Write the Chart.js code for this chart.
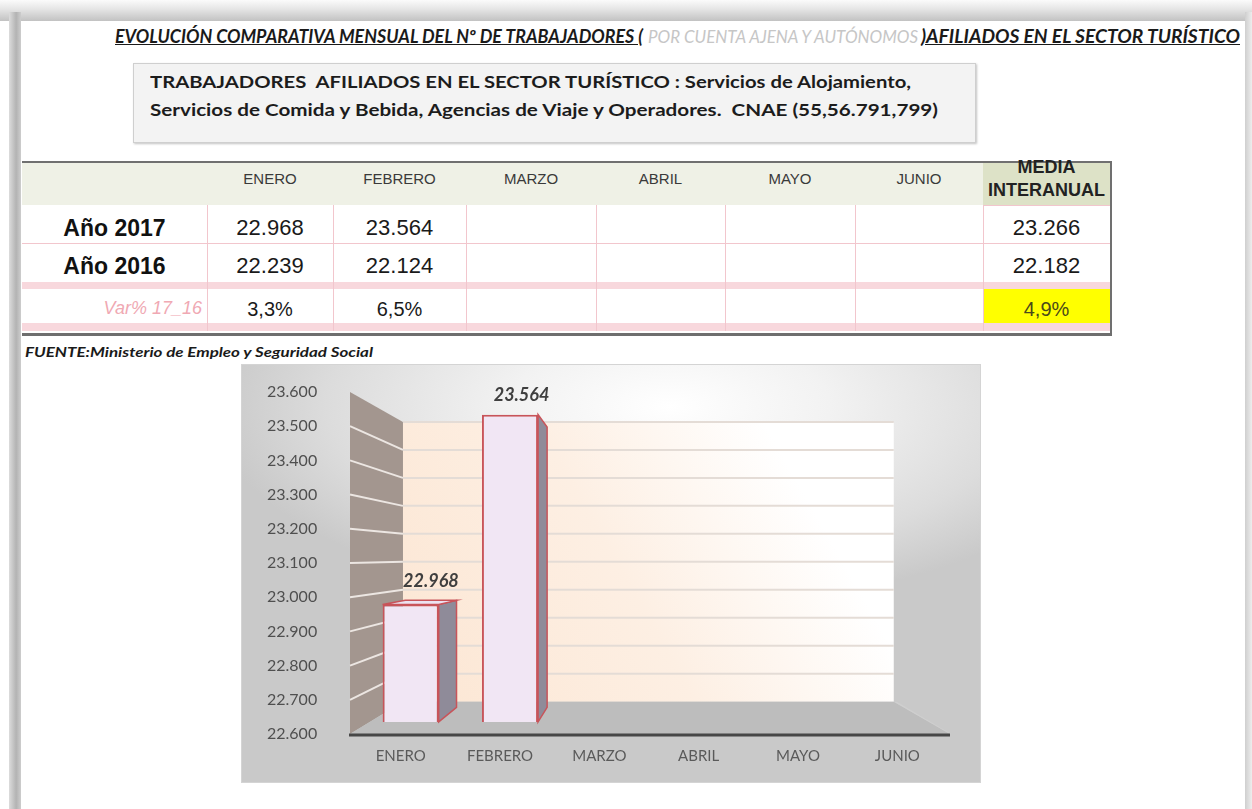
<!DOCTYPE html>
<html><head><meta charset="utf-8">
<script src="https://cdn.jsdelivr.net/npm/chart.js@4.4.1/dist/chart.umd.min.js"></script>
<style>
html,body{margin:0;padding:0;background:#fff;width:1252px;height:809px;overflow:hidden;position:relative;font-family:"Liberation Sans",Arial,sans-serif;}
#frameTop{position:absolute;left:0;top:0;width:1252px;height:21px;background:linear-gradient(#fbfbfb,#e4e4e4 45%,#c2c2c2);}
#frameLeft{position:absolute;left:9px;top:12px;width:12px;height:797px;background:linear-gradient(90deg,#dcdcdc,#b3b3b3 60%,#cdcdcd);}
#frameRight{position:absolute;left:1245px;top:12px;width:7px;height:797px;background:linear-gradient(90deg,#cfcfcf,#ededed);}
.fit{position:absolute;white-space:nowrap;transform-origin:0 50%;display:inline-block;}
.ttl{font-family:Lato,sans-serif;font-size:18px;line-height:20px;top:26px;font-style:italic;color:#1a1a1a;}
#box{position:absolute;left:133px;top:63px;width:841px;height:78px;background:#f3f3f3;border:1px solid #cfcfcf;box-shadow:1px 1px 2px #c4c4c4;}
.boxl{font-family:Lato,sans-serif;font-weight:bold;font-size:17px;line-height:22px;color:#1c1c1c;}
#chartBox{position:absolute;left:242px;top:365px;width:738px;height:417px;
 background:radial-gradient(ellipse 62% 48% at 58% 10%,#ffffff 0%,#f2f2f2 35%,#dcdcdc 75%,#c9c9c9 100%);
 box-shadow:0 0 0 1px #d4d4d4;}
#c{position:absolute;left:0;top:0;}
</style></head>
<body>
<div id="frameTop"></div><div id="frameLeft"></div><div id="frameRight"></div>

<div class="fit ttl" data-w="528" style="left:115px;font-weight:bold;text-decoration:underline;">EVOLUCIÓN COMPARATIVA MENSUAL DEL Nº DE TRABAJADORES (</div>
<div class="fit ttl" data-w="270" style="left:648px;color:#c6c6c6;font-weight:normal;"> POR CUENTA AJENA Y AUTÓNOMOS </div>
<div class="fit ttl" data-w="319" style="left:921px;font-weight:bold;text-decoration:underline;">)AFILIADOS EN EL SECTOR TURÍSTICO</div>

<div id="box"></div>
<div class="fit boxl" data-w="761" style="left:150px;top:71px;">TRABAJADORES&nbsp; AFILIADOS EN EL SECTOR TURÍSTICO : Servicios de Alojamiento,</div>
<div class="fit boxl" data-w="788" style="left:150px;top:99px;">Servicios de Comida y Bebida, Agencias de Viaje y Operadores.&nbsp; CNAE (55,56.791,799)</div>

<div id="table"></div>

<div class="fit" data-w="348" style="left:25px;top:343px;font-family:Lato,sans-serif;font-weight:bold;font-style:italic;font-size:14px;line-height:18px;color:#1a1a1a;">FUENTE:Ministerio de Empleo y Seguridad Social</div>

<div id="chartBox"><canvas id="c" width="738" height="417"></canvas></div>

<script>
// ---------------- DATA ----------------
const MONTHS = ['ENERO','FEBRERO','MARZO','ABRIL','MAYO','JUNIO'];
const ROW_LABELS = ['Año 2017','Año 2016'];
const VAR_LABEL = 'Var% 17_16';
const MEDIA_LABEL = ['MEDIA','INTERANUAL'];
const Y2017 = [22968, 23564, null, null, null, null];
const Y2016 = [22239, 22124, null, null, null, null];
const VAR_PCT = [3.3, 6.5, null, null, null, null];
const MEDIA_VALUES = [23266, 22182];
const MEDIA_VAR = 4.9;
const Y_MIN = 22600, Y_MAX = 23600, Y_STEP = 100;

const fmt = v => String(v).replace(/\B(?=(\d{3})+(?!\d))/g, '.');
const pct = v => v.toFixed(1).replace('.', ',') + '%';

// ---------------- TABLE ----------------
(function buildTable(){
  const T = document.getElementById('table');
  const X = [22, 207, 333, 466, 596, 725, 855, 983, 1110];
  const add = (css, html) => { const d = document.createElement('div'); d.style.cssText = css; if (html !== undefined) d.innerHTML = html; T.appendChild(d); return d; };
  const PINK = '#f2c6cd', BAND = '#f8d8dd';
  add(`position:absolute;left:${X[0]}px;top:163px;width:${X[7]-X[0]}px;height:42px;background:#eff1e6;`);
  add(`position:absolute;left:${X[7]}px;top:163px;width:${X[8]-X[7]}px;height:42px;background:#dde2c7;`);
  add(`position:absolute;left:${X[0]}px;top:282px;width:${X[8]-X[0]}px;height:7px;background:${BAND};`);
  add(`position:absolute;left:${X[0]}px;top:323px;width:${X[8]-X[0]}px;height:8px;background:${BAND};`);
  add(`position:absolute;left:${X[7]+1}px;top:289px;width:${X[8]-X[7]-1}px;height:34px;background:#ffff00;`);
  add(`position:absolute;left:${X[0]}px;top:243px;width:${X[8]-X[0]}px;height:1px;background:${PINK};`);
  add(`position:absolute;left:${X[7]}px;top:205px;width:${X[8]-X[7]}px;height:1px;background:${PINK};`);
  for (let i = 1; i < X.length; i++) add(`position:absolute;left:${X[i]}px;top:205px;width:1px;height:126px;background:${PINK};`);
  add(`position:absolute;left:${X[0]}px;top:161px;width:${X[8]-X[0]+2}px;height:2px;background:#707070;`);
  add(`position:absolute;left:${X[8]}px;top:161px;width:2px;height:175px;background:#707070;`);
  add(`position:absolute;left:${X[0]}px;top:333px;width:${X[8]-X[0]+2}px;height:3px;background:#6e6e6e;`);
  const txt = (l, r, cy, font, color, s, align) => add(`position:absolute;left:${l}px;width:${r-l}px;top:${cy-15}px;height:30px;line-height:30px;font:${font};color:${color};text-align:${align||'center'};white-space:nowrap;`, s);
  MONTHS.forEach((m, i) => txt(X[i+1], X[i+2], 185, '15px "Liberation Sans"', '#3a3a3a', m));
  txt(X[7], X[8], 172, 'bold 18px "Liberation Sans"', '#222', MEDIA_LABEL[0]);
  txt(X[7], X[8], 195, 'bold 18px "Liberation Sans"', '#222', MEDIA_LABEL[1]);
  const rows = [Y2017, Y2016], rowCy = [230, 268];
  rows.forEach((row, r) => {
    txt(X[0], X[1], rowCy[r], 'bold 23px "Liberation Sans"', '#111', ROW_LABELS[r]);
    row.forEach((v, i) => { if (v != null) txt(X[i+1], X[i+2], rowCy[r], '22px "Liberation Sans"', '#1a1a1a', fmt(v)); });
    txt(X[7], X[8], rowCy[r], '22px "Liberation Sans"', '#1a1a1a', fmt(MEDIA_VALUES[r]));
  });
  txt(X[0], X[1]-5, 313, 'italic 18px "Liberation Sans"', '#f0a9b3', VAR_LABEL, 'right');
  VAR_PCT.forEach((v, i) => { if (v != null) txt(X[i+1], X[i+2], 313, '20px "Liberation Sans"', '#1a1a1a', pct(v)); });
  txt(X[7], X[8], 313, '20px "Liberation Sans"', '#4a4a1a', pct(MEDIA_VAR));
})();

// ---------------- FIT TEXT ----------------
function fitAll(){
  document.querySelectorAll('.fit').forEach(el => {
    el.style.transform = 'none';
    const w = el.getBoundingClientRect().width;
    const target = +el.dataset.w;
    if (w > 0) el.style.transform = `scaleX(${target / w})`;
  });
}
fitAll();
if (document.fonts && document.fonts.ready) document.fonts.ready.then(fitAll);

// ---------------- CHART ----------------
const BACK_K = 0.818;
const BAR_S0 = 0.932, BAR_S1 = 0.85;
const scene = {
  id: 'scene',
  beforeDatasetsDraw(chart) {
    const { ctx, chartArea: ca, scales: { y } } = chart;
    const FL = ca.left - 11, FR = ca.right - 7, FT = ca.top, FB = ca.bottom;
    const C = { x: FL + 0.485 * (FR - FL), y: FT + 0.481 * (FB - FT) };
    chart.$C = C;
    const P = (x, yy, s) => [C.x + s * (x - C.x), C.y + s * (yy - C.y)];
    const poly = (pts, fill, stroke, lw) => {
      ctx.beginPath(); ctx.moveTo(pts[0][0], pts[0][1]);
      for (let i = 1; i < pts.length; i++) ctx.lineTo(pts[i][0], pts[i][1]);
      ctx.closePath();
      if (fill) { ctx.fillStyle = fill; ctx.fill(); }
      if (stroke) { ctx.strokeStyle = stroke; ctx.lineWidth = lw || 1; ctx.stroke(); }
    };
    ctx.save();
    const bTL = P(FL, FT, BACK_K), bBR = P(FR, FB, BACK_K), bBL = P(FL, FB, BACK_K), bTR = P(FR, FT, BACK_K);
    const g = ctx.createLinearGradient(bBL[0], bBL[1], bTR[0], bTR[1]);
    g.addColorStop(0, '#fce6d3'); g.addColorStop(0.45, '#fdefe3'); g.addColorStop(0.8, '#ffffff'); g.addColorStop(1, '#ffffff');
    poly([bTL, bTR, bBR, bBL], g);
    poly([[FL, FT], bTL, bBL, [FL, FB]], '#a3968f');
    const ticks = [];
    for (let v = Y_MIN + Y_STEP; v <= Y_MAX; v += Y_STEP) ticks.push(v);
    ticks.forEach(v => {
      const yf = y.getPixelForValue(v);
      const b = P(FL, yf, BACK_K);
      ctx.strokeStyle = '#e4dcd6'; ctx.lineWidth = 2;
      ctx.beginPath(); ctx.moveTo(b[0], b[1]); ctx.lineTo(bTR[0], b[1]); ctx.stroke();
      if (v < Y_MAX) {
        ctx.strokeStyle = '#ece6e2'; ctx.lineWidth = 2;
        ctx.beginPath(); ctx.moveTo(FL, yf); ctx.lineTo(b[0], b[1]); ctx.stroke();
      }
    });
    poly([[FL, FB], [FR, FB], bBR, bBL], '#bdbdbd');
    poly([[FR, FB], bBR, [bBR[0] + 3, bBR[1]], [FR + 1, FB]], '#cfcfcf');
    ctx.strokeStyle = '#474747'; ctx.lineWidth = 3;
    ctx.beginPath(); ctx.moveTo(FL - 1, FB + 1); ctx.lineTo(FR, FB + 1); ctx.stroke();
    const r = BAR_S1 / BAR_S0;
    const Q = (x, yy) => [C.x + r * (x - C.x), C.y + r * (yy - C.y)];
    const meta = chart.getDatasetMeta(0);
    meta.data.forEach((el, i) => {
      const v = chart.data.datasets[0].data[i];
      if (v == null) return;
      const x0 = el.x - el.width / 2, x1 = el.x + el.width / 2, t = el.y, b = el.base;
      if (x1 < C.x) poly([[x1, t], [x1, b], Q(x1, b), Q(x1, t)], '#8f8b99', '#c8545a', 1.5);
      if (x0 > C.x) poly([[x0, t], [x0, b], Q(x0, b), Q(x0, t)], '#8f8b99', '#c8545a', 1.5);
      if (t > C.y) poly([[x0, t], [x1, t], Q(x1, t), Q(x0, t)], '#ece2f0', '#c8545a', 1.5);
    });
    ctx.restore();
  },
  afterDatasetsDraw(chart) {
    const { ctx } = chart; const C = chart.$C;
    const r = BAR_S1 / BAR_S0;
    const meta = chart.getDatasetMeta(0);
    ctx.save();
    ctx.font = 'italic bold 18px Lato';
    ctx.fillStyle = '#3f3f3f'; ctx.textAlign = 'center'; ctx.textBaseline = 'middle';
    meta.data.forEach((el, i) => {
      const v = chart.data.datasets[0].data[i];
      if (v == null) return;
      const qx = C.x + r * (el.x - C.x), qy = C.y + r * (el.y - C.y);
      ctx.fillText(fmt(v), qx, Math.min(el.y, qy) - 19);
    });
    ctx.restore();
  }
};

new Chart(document.getElementById('c'), {
  type: 'bar',
  data: {
    labels: MONTHS,
    datasets: [{
      data: Y2017, yAxisID: 'yBar', base: Y_MIN,
      backgroundColor: '#f1e6f4', borderColor: '#c8545a', borderWidth: 2,
      barPercentage: 0.565, categoryPercentage: 1
    }]
  },
  options: {
    responsive: false, animation: false, devicePixelRatio: 1,
    layout: { padding: { left: 25, top: 27, right: 23, bottom: 0 } },
    plugins: { legend: { display: false }, tooltip: { enabled: false } },
    scales: {
      x: {
        grid: { display: false, drawTicks: false }, border: { display: false },
        ticks: { labelOffset: -10, padding: 13, color: '#5a5a5a', font: { family: 'Lato', size: 15 }, maxRotation: 0, autoSkip: false },
        afterFit(s) { s.height = 48; }
      },
      y: {
        min: Y_MIN, max: Y_MAX,
        grid: { display: false, drawTicks: false }, border: { display: false },
        ticks: { stepSize: Y_STEP, padding: 0, crossAlign: 'far', color: '#4f4f4f', font: { family: 'Lato', size: 16 }, callback: v => fmt(v) },
        afterFit(s) { s.width = 94; }
      },
      yBar: { display: false, min: 22562, max: 23635 }
    }
  },
  plugins: [scene]
});
</script>
</body></html>
